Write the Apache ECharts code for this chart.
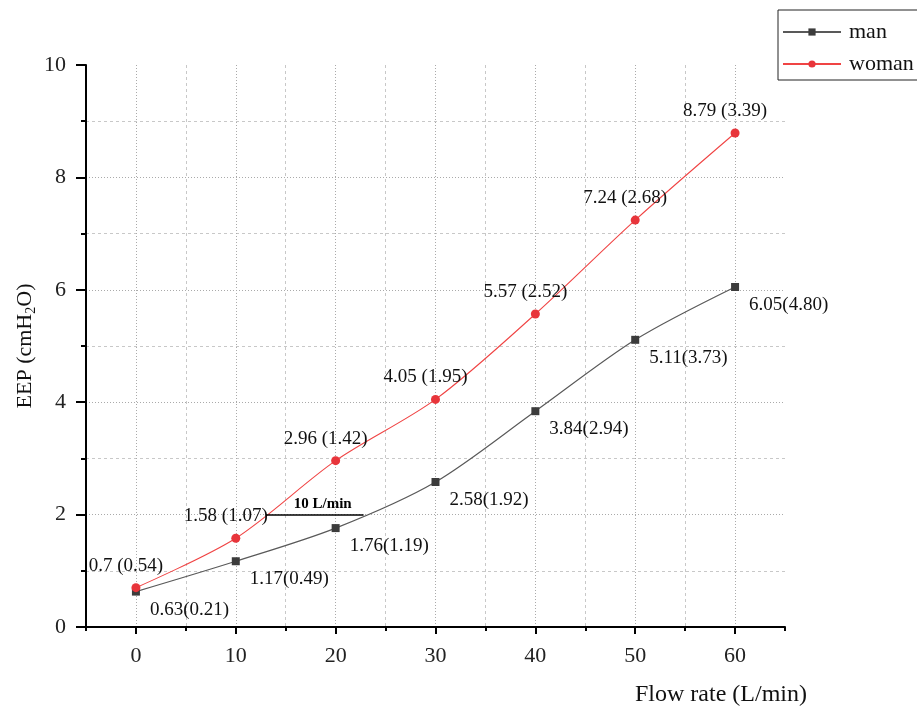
<!DOCTYPE html>
<html>
<head>
<meta charset="utf-8">
<script src="https://cdn.jsdelivr.net/npm/echarts@6/dist/echarts.min.js"></script>
<style>
html,body{margin:0;padding:0;background:#fff;}
#chart{width:917px;height:708px;}
</style>
</head>
<body>
<div id="chart"></div>
<script>
// ---- data ----
const flowRates = [0, 10, 20, 30, 40, 50, 60];
const manMean = [0.63, 1.17, 1.76, 2.58, 3.84, 5.11, 6.05];
const manSD = [0.21, 0.49, 1.19, 1.92, 2.94, 3.73, 4.80];
const womanMean = [0.70, 1.58, 2.96, 4.05, 5.57, 7.24, 8.79];
const womanSD = [0.54, 1.07, 1.42, 1.95, 2.52, 2.68, 3.39];
const womanMeanText = ['0.7', '1.58', '2.96', '4.05', '5.57', '7.24', '8.79'];
const xMajorTicks = [0, 10, 20, 30, 40, 50, 60];
const xMinorTicks = [-5, 5, 15, 25, 35, 45, 55, 65];
const annotX = [13, 22.8];
const annotY = 2;
const annotText = '10 L/min';

const FONT = '"Liberation Serif", "Times New Roman", serif';

const manData = flowRates.map((x, i) => [x, manMean[i]]);
const womanData = flowRates.map((x, i) => [x, womanMean[i]]);

const chart = echarts.init(document.getElementById('chart'));
const option = {
  animation: false,
  backgroundColor: '#fff',
  grid: { left: 86, top: 65, right: 132, bottom: 81, containLabel: false },
  legend: {
    orient: 'vertical',
    left: 778, top: 10,
    itemWidth: 58, itemHeight: 9, itemGap: 10,
    padding: [11, 10, 5, 4],
    borderColor: '#222', borderWidth: 1,
    textStyle: { fontFamily: FONT, fontSize: 22, color: '#111', padding: [0, 0, 0, 3] },
    data: ['man', 'woman']
  },
  xAxis: [
    {
      type: 'value', min: -5, max: 65, position: 'bottom',
      axisLine: { onZero: false, lineStyle: { color: '#000', width: 2 } },
      axisTick: { customValues: xMajorTicks, length: 7, lineStyle: { color: '#000', width: 2 } },
      axisLabel: { customValues: xMajorTicks, fontFamily: FONT, fontSize: 22, color: '#222', margin: 18 },
      splitLine: { show: true, lineStyle: { color: '#aaa', type: [1, 2], width: 1 } },
      name: 'Flow rate (L/min)', nameLocation: 'end', nameGap: -64, nameMoveOverlap: false,
      nameTextStyle: { fontFamily: FONT, fontSize: 24, color: '#111', align: 'center', verticalAlign: 'top', padding: [56, 0, 0, 0] }
    },
    {
      type: 'value', min: -5, max: 65, position: 'bottom',
      axisLine: { show: false, onZero: false },
      axisTick: { customValues: xMinorTicks, length: 4, lineStyle: { color: '#000', width: 2 } },
      axisLabel: { show: false },
      splitLine: { show: true, showMinLine: false, showMaxLine: false, lineStyle: { color: '#c8c8c8', type: [3, 3], width: 1 } }
    }
  ],
  yAxis: {
    type: 'value', min: 0, max: 10, interval: 2,
    axisLine: { show: true, onZero: false, lineStyle: { color: '#000', width: 2 } },
    axisTick: { show: true, length: 10, lineStyle: { color: '#000', width: 2 } },
    minorTick: { show: true, splitNumber: 2, length: 5, lineStyle: { color: '#000', width: 2 } },
    axisLabel: { fontFamily: FONT, fontSize: 22, color: '#222', margin: 20 },
    splitLine: { show: true, showMinLine: false, showMaxLine: false, lineStyle: { color: '#aaa', type: [1, 2], width: 1 } },
    minorSplitLine: { show: true, lineStyle: { color: '#c8c8c8', type: [3, 3], width: 1 } },
    name: 'EEP (cmH{s|2}O)', nameLocation: 'middle', nameRotate: 90, nameGap: 48, nameMoveOverlap: false,
    nameTextStyle: { fontFamily: FONT, fontSize: 22, color: '#111',
      rich: { s: { fontFamily: FONT, fontSize: 14, color: '#111', verticalAlign: 'bottom', padding: [12, 0, 0, 0] } } }
  },
  series: [
    {
      name: 'man', type: 'line', xAxisIndex: 0, data: manData,
      smooth: 0.3, symbol: 'rect', symbolSize: 8,
      itemStyle: { color: '#3c3c3c' },
      lineStyle: { color: '#595959', width: 1.2 },
      label: {
        show: true, position: 'right', distance: 10, offset: [0, 18],
        fontFamily: FONT, fontSize: 19, color: '#111',
        formatter: p => manMean[p.dataIndex].toFixed(2) + '(' + manSD[p.dataIndex].toFixed(2) + ')'
      },
      markLine: {
        silent: true, symbol: 'none',
        lineStyle: { color: '#000', width: 1.5, type: 'solid' },
        label: { show: true, position: 'insideMiddleTop', distance: 3, formatter: annotText,
          padding: [0, 0, 0, 16],
          fontFamily: FONT, fontSize: 15, fontWeight: 'bold', color: '#000' },
        data: [[{ coord: [annotX[0], annotY] }, { coord: [annotX[1], annotY] }]]
      },
      z: 3
    },
    {
      name: 'woman', type: 'line', xAxisIndex: 0, data: womanData,
      smooth: 0.3, symbol: 'circle', symbolSize: 9,
      itemStyle: { color: '#e8353b' },
      lineStyle: { color: '#f04444', width: 1.1 },
      label: {
        show: true, position: 'top', distance: 8, offset: [-10, 0],
        fontFamily: FONT, fontSize: 19, color: '#111',
        formatter: p => womanMeanText[p.dataIndex] + ' (' + womanSD[p.dataIndex].toFixed(2) + ')'
      },
      z: 4
    }
  ]
};
chart.setOption(option);
</script>
</body>
</html>
